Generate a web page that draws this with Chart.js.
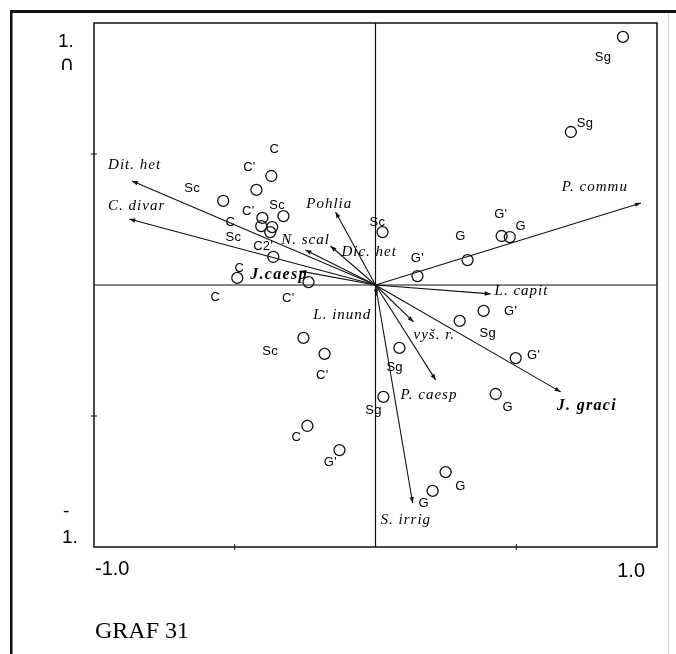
<!DOCTYPE html>
<html>
<head>
<meta charset="utf-8">
<script src="https://cdn.jsdelivr.net/npm/chart.js@4"></script>
<style>
  html, body { margin: 0; padding: 0; background: #fff; }
  #wrap { width: 676px; height: 654px; }
</style>
</head>
<body>
<div id="wrap"><canvas id="biplot" width="676" height="654"></canvas></div>
<script>
// snímky (kroužky) - souřadnice v ordinačním prostoru
const siteX = [0.879, 0.694, 0.025, 0.327, 0.149, 0.448, 0.477, 0.384, 0.299, 0.498,
               0.085, 0.028, 0.427, 0.249, 0.203, -0.128, -0.242, -0.256, -0.181, -0.370,
               -0.423, -0.541, -0.327, -0.402, -0.406, -0.367, -0.374, -0.363, -0.491, -0.238];
const siteY = [0.947, 0.584, 0.202, 0.095, 0.034, 0.187, 0.183, -0.099, -0.137, -0.279,
               -0.240, -0.427, -0.416, -0.714, -0.786, -0.630, -0.538, -0.202, -0.263, 0.416,
               0.363, 0.321, 0.263, 0.256, 0.225, 0.221, 0.202, 0.107, 0.027, 0.011];

// popisky snímků a jejich umístění
const siteLabels = ['Sg', 'Sg', 'Sc', 'G', "G'", "G'", 'G', "G'", 'Sg', "G'",
                    'Sg', 'Sg', 'G', 'G', 'G', "G'", 'C', 'Sc', "C'", 'C',
                    "C'", 'Sc', 'Sc', "C'", 'C', 'Sc', "C2'", 'C', 'C', "C'"];
const siteLabelX = [0.808, 0.744, 0.007, 0.302, 0.149, 0.445, 0.516, 0.480, 0.399, 0.562,
                    0.068, -0.007, 0.470, 0.302, 0.171, -0.160, -0.281, -0.374, -0.189, -0.359,
                    -0.448, -0.651, -0.349, -0.452, -0.516, -0.505, -0.399, -0.484, -0.569, -0.310];
const siteLabelY = [0.870, 0.618, 0.240, 0.187, 0.103, 0.271, 0.225, -0.099, -0.183, -0.267,
                    -0.313, -0.477, -0.469, -0.767, -0.832, -0.676, -0.580, -0.252, -0.344, 0.519,
                    0.450, 0.370, 0.305, 0.282, 0.240, 0.183, 0.149, 0.065, -0.046, -0.050];

// druhy / proměnné (šipky)
const speciesNames = ['Dit. het', 'C. divar', 'Pohlia', 'N. scal', 'Dic. het', 'J.caesp',
                      'L. capit', 'L. inund', 'vyš. r.', 'P. caesp', 'J. graci', 'S. irrig', 'P. commu'];
const speciesX = [-0.865, -0.875, -0.142, -0.249, -0.160, -0.267,
                  0.409, 0.004, 0.135, 0.214, 0.658, 0.132, 0.943];
const speciesY = [0.397, 0.252, 0.279, 0.134, 0.149, 0.053,
                  -0.034, -0.040, -0.141, -0.363, -0.408, -0.832, 0.313];
const speciesLabelX = [-0.950, -0.950, -0.246, -0.335, -0.121, -0.445,
                       0.423, -0.221, 0.135, 0.089, 0.644, 0.018, 0.662];
const speciesLabelY = [0.458, 0.302, 0.309, 0.172, 0.126, 0.038,
                       -0.023, -0.115, -0.191, -0.420, -0.462, -0.897, 0.374];
const speciesBold = ['J.caesp', 'J. graci'];

const axisTicks = [-0.5, 0.5];

function arrow(ctx, x0, y0, x1, y1) {
    ctx.beginPath();
    ctx.moveTo(x0, y0);
    ctx.lineTo(x1, y1);
    ctx.stroke();
    const a = Math.atan2(y1 - y0, x1 - x0);
    const len = 6, w = 2.2;
    ctx.beginPath();
    ctx.moveTo(x1, y1);
    ctx.lineTo(x1 - len * Math.cos(a) + w * Math.sin(a), y1 - len * Math.sin(a) - w * Math.cos(a));
    ctx.lineTo(x1 - len * Math.cos(a) - w * Math.sin(a), y1 - len * Math.sin(a) + w * Math.cos(a));
    ctx.closePath();
    ctx.fill();
}

const biplotFrame = {
    id: 'biplotFrame',
    beforeDatasetsDraw(chart) {
        const ctx = chart.ctx;
        const xs = chart.scales.x, ys = chart.scales.y;
        const area = chart.chartArea;
        const x0 = xs.getPixelForValue(0), y0 = ys.getPixelForValue(0);
        ctx.save();

        // vnější rámeček stránky
        ctx.fillStyle = '#111';
        ctx.fillRect(10, 10, 666, 3);
        ctx.fillRect(10, 10, 2.5, 644);
        ctx.fillStyle = '#d4d4d4';
        ctx.fillRect(668, 13, 1, 641);

        // rámeček grafu
        ctx.strokeStyle = '#111';
        ctx.lineWidth = 1.5;
        ctx.strokeRect(area.left, area.top, area.right - area.left, area.bottom - area.top);

        // osy v nule
        ctx.lineWidth = 1.2;
        ctx.beginPath();
        ctx.moveTo(x0, area.top); ctx.lineTo(x0, area.bottom);
        ctx.moveTo(area.left, y0); ctx.lineTo(area.right, y0);
        ctx.stroke();

        // značky
        ctx.lineWidth = 1;
        axisTicks.forEach(t => {
            const py = ys.getPixelForValue(t);
            ctx.beginPath(); ctx.moveTo(area.left - 3, py); ctx.lineTo(area.left + 3, py); ctx.stroke();
            const px = xs.getPixelForValue(t);
            ctx.beginPath(); ctx.moveTo(px, area.bottom - 3); ctx.lineTo(px, area.bottom + 3); ctx.stroke();
        });

        // šipky
        ctx.strokeStyle = '#111';
        ctx.fillStyle = '#111';
        ctx.lineWidth = 1.1;
        speciesX.forEach((sx, i) => {
            arrow(ctx, x0, y0, xs.getPixelForValue(sx), ys.getPixelForValue(speciesY[i]));
        });
        ctx.restore();
    },
    afterDatasetsDraw(chart) {
        const ctx = chart.ctx;
        const xs = chart.scales.x, ys = chart.scales.y;
        const area = chart.chartArea;
        ctx.save();
        ctx.fillStyle = '#000';

        // popisky druhů
        ctx.textAlign = 'left';
        ctx.textBaseline = 'middle';
        speciesNames.forEach((name, i) => {
            const bold = speciesBold.includes(name);
            ctx.font = bold ? 'italic bold 16px "Liberation Serif", serif' : 'italic 15px "Liberation Serif", serif';
            ctx.letterSpacing = bold ? '1.3px' : '1px';
            ctx.fillText(name, xs.getPixelForValue(speciesLabelX[i]), ys.getPixelForValue(speciesLabelY[i]));
        });

        // popisky snímků
        ctx.letterSpacing = '0.3px';
        ctx.textAlign = 'center';
        ctx.font = '13px "Liberation Sans", Arial, sans-serif';
        siteLabels.forEach((lab, i) => {
            ctx.fillText(lab, xs.getPixelForValue(siteLabelX[i]), ys.getPixelForValue(siteLabelY[i]));
        });

        // popisky os
        ctx.letterSpacing = '0px';
        ctx.textBaseline = 'alphabetic';
        ctx.font = '20px "Liberation Sans", Arial, sans-serif';
        ctx.textAlign = 'left';
        ctx.fillText('-1.0', xs.getPixelForValue(-1) + 1, area.bottom + 28);
        ctx.textAlign = 'right';
        ctx.fillText('1.0', xs.getPixelForValue(1) - 12, area.bottom + 30);

        ctx.font = '19px "Liberation Sans", Arial, sans-serif';
        ctx.textAlign = 'left';
        ctx.fillText('1.', area.left - 36, ys.getPixelForValue(1) + 24);
        ctx.font = '20px "DejaVu Sans", sans-serif';
        ctx.textAlign = 'center';
        ctx.fillText('\u2229', area.left - 27, ys.getPixelForValue(1) + 47);
        ctx.font = '19px "Liberation Sans", Arial, sans-serif';
        ctx.textAlign = 'left';
        ctx.fillText('-', area.left - 31, ys.getPixelForValue(-1) - 30);
        ctx.fillText('1.', area.left - 32, ys.getPixelForValue(-1) - 4);

        // název
        ctx.font = '24px "Liberation Serif", serif';
        ctx.fillText('GRAF 31', area.left + 1, area.bottom + 91);
        ctx.restore();
    }
};

const ctx = document.getElementById('biplot').getContext('2d');
new Chart(ctx, {
    type: 'scatter',
    data: {
        datasets: [{
            label: 'snímky',
            data: siteX.map((x, i) => ({ x: x, y: siteY[i] })),
            pointStyle: 'circle',
            pointRadius: 5.5,
            pointBackgroundColor: 'rgba(255,255,255,0)',
            pointBorderColor: '#111',
            pointBorderWidth: 1.3
        }]
    },
    options: {
        responsive: false,
        animation: false,
        layout: { padding: { left: 94, right: 19, top: 23, bottom: 107 } },
        scales: {
            x: { type: 'linear', min: -1, max: 1, display: false },
            y: { type: 'linear', min: -1, max: 1, display: false }
        },
        plugins: {
            legend: { display: false },
            tooltip: { enabled: false }
        }
    },
    plugins: [biplotFrame]
});
</script>
</body>
</html>
